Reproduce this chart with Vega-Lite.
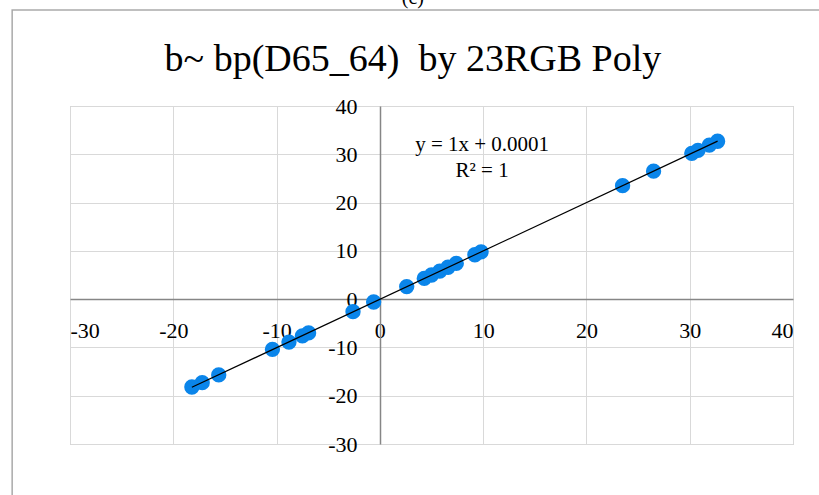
{
  "$schema": "https://vega.github.io/schema/vega-lite/v6.json",
  "autosize": "none",
  "width": 723,
  "height": 338,
  "padding": {"left": 70, "top": 106, "right": 26, "bottom": 51},
  "background": "white",
  "config": {
    "font": "Liberation Serif",
    "view": {"stroke": "#bfbfbf", "strokeWidth": 1},
    "axis": {
      "labelFont": "Liberation Serif",
      "labelFontSize": 22,
      "labelColor": "#000000",
      "gridColor": "#d9d9d9",
      "gridWidth": 1,
      "domainColor": "#868686",
      "domainWidth": 1.5,
      "ticks": false,
      "title": null,
      "labelExpr": "'' + datum.value"
    }
  },
  "datasets": {
    "pts": [
      {"x": -18.2, "y": -18.2},
      {"x": -17.2, "y": -17.3},
      {"x": -15.6, "y": -15.7},
      {"x": -10.4, "y": -10.4},
      {"x": -8.8, "y": -8.9},
      {"x": -7.5, "y": -7.6},
      {"x": -6.9, "y": -7.0},
      {"x": -2.6, "y": -2.6},
      {"x": -0.6, "y": -0.6},
      {"x": 2.6, "y": 2.6},
      {"x": 4.3, "y": 4.3},
      {"x": 5.0, "y": 5.0},
      {"x": 5.8, "y": 5.8},
      {"x": 6.6, "y": 6.6},
      {"x": 7.4, "y": 7.4},
      {"x": 9.2, "y": 9.2},
      {"x": 9.8, "y": 9.8},
      {"x": 23.5, "y": 23.5},
      {"x": 26.5, "y": 26.5},
      {"x": 30.2, "y": 30.2},
      {"x": 30.8, "y": 30.8},
      {"x": 31.9, "y": 31.9},
      {"x": 32.7, "y": 32.7}
    ],
    "labels": [
      {"x": 9.9, "y": 31.9, "text": "y = 1x + 0.0001"},
      {"x": 9.9, "y": 26.5, "text": "R² = 1"}
    ],
    "titles": [
      {"x": 3.2, "y": 47.3, "text": "b~ bp(D65_64)\u00a0 by 23RGB Poly", "kind": "title"},
      {"x": 3.2, "y": 61.2, "text": "(c)", "kind": "caption"}
    ]
  },
  "layer": [
    {
      "data": {"name": "pts"},
      "mark": {"type": "point", "filled": true, "shape": "circle", "size": 235, "color": "#0a85ea", "opacity": 1},
      "encoding": {
        "x": {
          "field": "x", "type": "quantitative",
          "scale": {"domain": [-30, 40], "nice": false, "zero": false},
          "axis": {"values": [-30, -20, -10, 0, 10, 20, 30, 40], "offset": -145, "labelPadding": 21, "grid": true}
        },
        "y": {
          "field": "y", "type": "quantitative",
          "scale": {"domain": [-30, 40], "nice": false, "zero": false},
          "axis": {"values": [-30, -20, -10, 0, 10, 20, 30, 40], "offset": -310, "labelPadding": 23, "grid": true}
        }
      }
    },
    {
      "data": {"name": "pts"},
      "transform": [{"regression": "y", "on": "x"}],
      "mark": {"type": "line", "color": "#000000", "strokeWidth": 1.2},
      "encoding": {
        "x": {"field": "x", "type": "quantitative"},
        "y": {"field": "y", "type": "quantitative"}
      }
    },
    {
      "data": {"name": "labels"},
      "mark": {"type": "text", "font": "Liberation Serif", "fontSize": 21, "color": "#000000", "align": "center", "baseline": "middle"},
      "encoding": {
        "x": {"field": "x", "type": "quantitative"},
        "y": {"field": "y", "type": "quantitative"},
        "text": {"field": "text"}
      }
    },
    {
      "data": {"name": "titles"},
      "transform": [{"filter": "datum.kind == 'title'"}],
      "mark": {"type": "text", "font": "Liberation Serif", "fontSize": 38, "color": "#000000", "align": "center", "baseline": "alphabetic", "clip": false},
      "encoding": {
        "x": {"field": "x", "type": "quantitative"},
        "y": {"field": "y", "type": "quantitative"},
        "text": {"field": "text"}
      }
    },
    {
      "data": {"name": "titles"},
      "transform": [{"filter": "datum.kind == 'caption'"}],
      "mark": {"type": "text", "font": "Liberation Serif", "fontSize": 20, "color": "#000000", "align": "center", "baseline": "alphabetic", "clip": false},
      "encoding": {
        "x": {"field": "x", "type": "quantitative"},
        "y": {"field": "y", "type": "quantitative"},
        "text": {"field": "text"}
      }
    },
    {
      "data": {"values": [{"frame": 1}]},
      "mark": {"type": "rect", "fill": null, "fillOpacity": 0, "stroke": "#aaaaaa", "strokeWidth": 1.5, "clip": false},
      "encoding": {
        "x": {"datum": -35.6, "type": "quantitative"},
        "x2": {"datum": 60},
        "y": {"datum": 59.9, "type": "quantitative"},
        "y2": {"datum": -60}
      }
    }
  ]
}
